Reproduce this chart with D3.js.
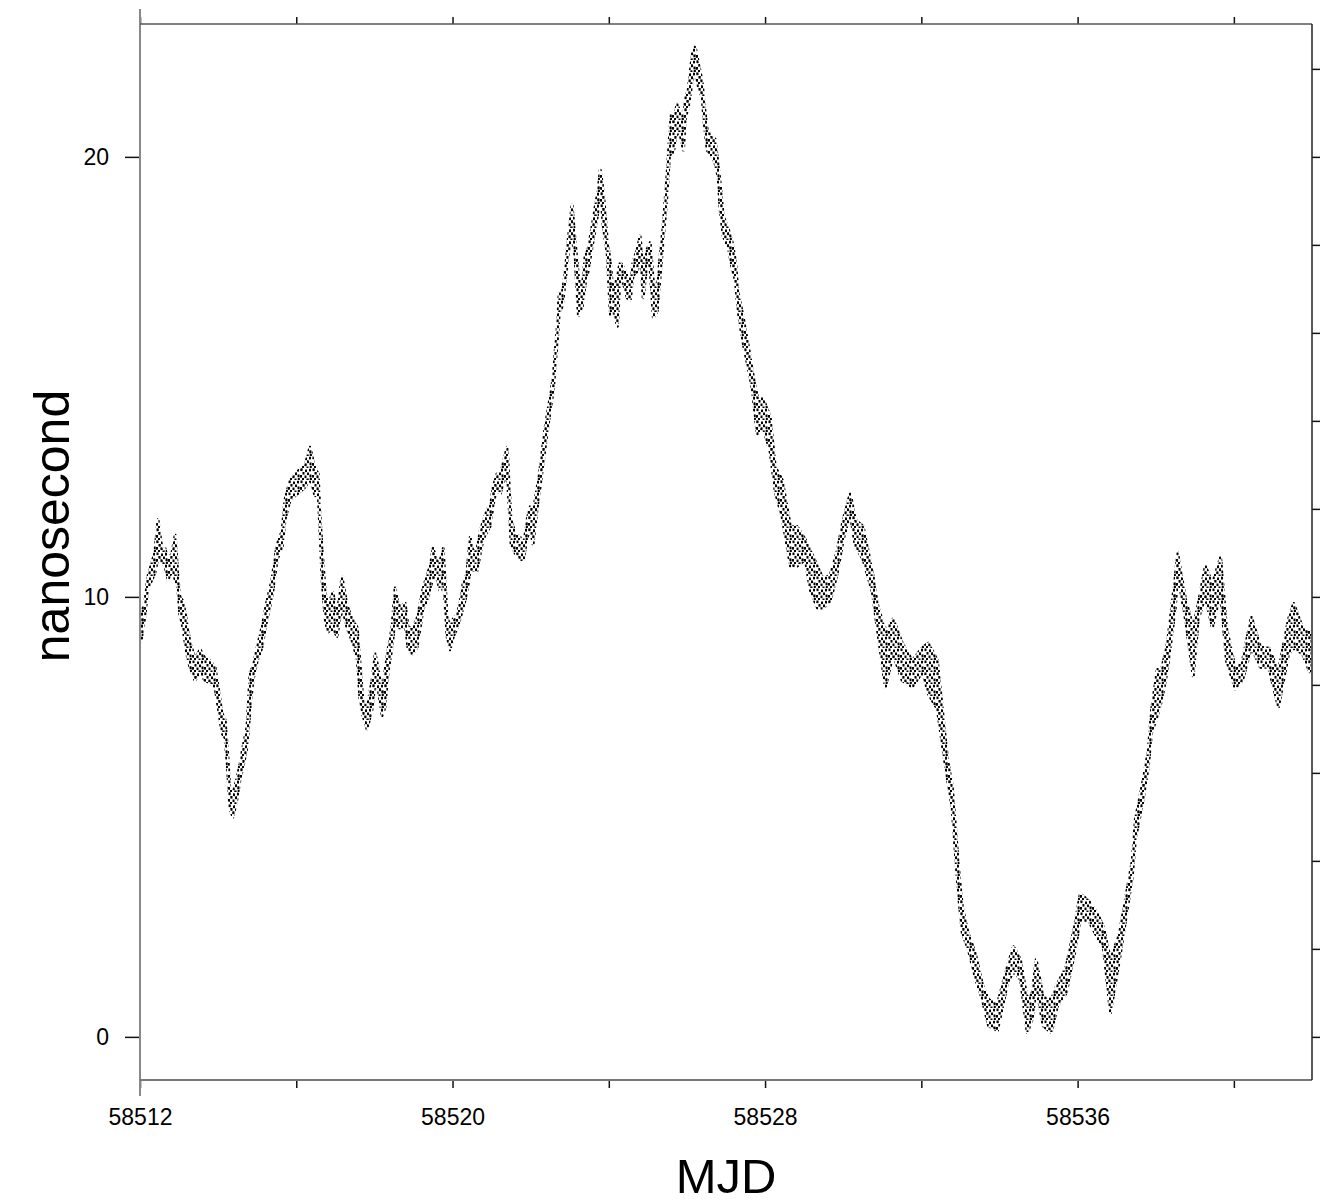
<!DOCTYPE html>
<html>
<head>
<meta charset="utf-8">
<script src="https://cdn.jsdelivr.net/npm/d3@7"></script>
<style>
body{margin:0;background:#fff}
text{font-family:"Liberation Sans",Arial,sans-serif;fill:#000}
</style>
</head>
<body>
<svg></svg>
<script>
// clock offset cloud: sample epoch, low and high edge of the scatter
var mjd=[58512.03,58512.13,58512.20,58512.31,58512.38,58512.46,58512.56,58512.64,58512.72,58512.82,
58512.90,58512.97,58513.02,58513.10,58513.20,58513.28,58513.41,58513.54,58513.66,58513.79,
58513.92,58514.00,58514.10,58514.18,58514.25,58514.30,58514.38,58514.48,58514.56,58514.64,
58514.74,58514.82,58514.89,58515.00,58515.12,58515.25,58515.38,58515.51,58515.64,58515.71,
58515.84,58515.97,58516.10,58516.23,58516.35,58516.48,58516.56,58516.61,58516.66,58516.74,
58516.81,58516.94,58517.04,58517.17,58517.30,58517.43,58517.56,58517.63,58517.71,58517.81,
58517.94,58518.02,58518.09,58518.20,58518.27,58518.35,58518.45,58518.53,58518.61,58518.71,
58518.79,58518.86,58518.97,58519.09,58519.17,58519.25,58519.35,58519.43,58519.50,58519.61,
58519.68,58519.76,58519.86,58519.94,58520.02,58520.12,58520.19,58520.27,58520.37,58520.45,
58520.53,58520.63,58520.71,58520.78,58520.89,58520.96,58521.04,58521.14,58521.22,58521.30,
58521.40,58521.45,58521.50,58521.60,58521.73,58521.81,58521.91,58521.99,58522.06,58522.17,
58522.24,58522.37,58522.50,58522.58,58522.63,58522.68,58522.73,58522.81,58522.88,58522.96,
58523.06,58523.14,58523.22,58523.32,58523.40,58523.47,58523.57,58523.65,58523.73,58523.78,
58523.86,58523.96,58524.04,58524.11,58524.22,58524.29,58524.37,58524.47,58524.55,58524.62,
58524.73,58524.80,58524.88,58524.98,58525.06,58525.14,58525.24,58525.32,58525.39,58525.44,
58525.50,58525.55,58525.60,58525.65,58525.75,58525.83,58525.91,58525.96,58526.03,58526.14,
58526.21,58526.29,58526.39,58526.44,58526.52,58526.65,58526.72,58526.80,58526.85,58526.93,
58527.06,58527.16,58527.24,58527.31,58527.42,58527.57,58527.67,58527.80,58527.95,58528.13,
58528.26,58528.44,58528.65,58528.82,58529.03,58529.16,58529.34,58529.49,58529.67,58529.85,
58530.00,58530.18,58530.31,58530.51,58530.75,58530.87,58531.08,58531.28,58531.51,58531.77,
58532.03,58532.18,58532.41,58532.56,58532.67,58532.79,58532.87,58532.95,58533.05,58533.20,
58533.38,58533.56,58533.72,58533.95,58534.20,58534.36,58534.54,58534.71,58534.84,58534.94,
58535.12,58535.33,58535.48,58535.71,58535.92,58536.07,58536.28,58536.51,58536.66,58536.84,
58537.07,58537.28,58537.40,58537.48,58537.66,58537.81,58537.89,58538.04,58538.15,58538.30,
58538.50,58538.56,58538.76,58538.96,58539.09,58539.27,58539.45,58539.66,58539.81,58540.04,
58540.22,58540.45,58540.68,58540.89,58541.14,58541.40,58541.53,58541.76,58541.94];

var lo=[9.0,9.6,10.2,10.4,10.55,10.9,10.8,10.7,10.4,10.6,
10.4,10.2,9.6,9.3,8.7,8.4,8.1,8.3,8.1,8.05,
7.95,7.5,6.9,6.8,6.0,5.2,5.0,5.4,5.85,6.15,
6.6,7.5,8.1,8.55,8.85,9.5,10.0,10.85,11.15,11.75,
12.2,12.3,12.4,12.5,12.7,12.3,12.4,11.45,10.4,9.5,
9.2,9.3,9.1,9.8,9.3,9.0,8.6,7.7,7.3,7.0,
7.45,8.1,7.95,7.3,7.5,8.3,8.85,9.5,9.3,9.3,
9.4,8.85,8.7,8.85,9.3,9.75,9.9,10.2,10.45,10.4,
10.15,10.55,9.1,8.8,9.1,9.3,9.5,9.75,10.1,10.6,
10.6,10.6,11.0,11.3,11.5,11.6,12.1,12.5,12.35,12.6,
12.8,12.05,11.2,11.0,10.85,10.85,11.35,11.6,11.2,12.05,
12.5,13.4,14.25,14.7,15.3,15.8,16.45,16.6,17.15,17.8,
18.3,17.7,16.4,16.6,17.15,17.4,17.95,18.35,18.8,19.4,
18.4,17.8,16.4,16.6,16.15,17.3,17.15,16.8,16.75,17.3,
17.4,17.9,16.8,17.6,17.45,16.35,16.5,17.35,18.1,18.6,
19.25,20.0,20.1,20.1,20.6,20.5,20.15,20.9,21.1,21.75,
22.0,21.6,21.35,20.8,20.15,20.0,19.85,19.55,18.8,18.2,
17.95,17.45,17.2,16.5,15.85,15.2,14.75,13.7,13.85,13.3,
12.4,11.8,10.7,10.7,10.85,10.15,9.75,9.75,9.9,10.55,
11.3,11.9,11.15,10.85,10.1,9.3,7.95,8.7,8.1,7.95,
8.3,7.8,7.45,6.5,5.85,5.2,4.2,3.25,2.35,2.0,
1.35,0.85,0.25,0.15,1.2,1.5,1.3,0.1,0.4,1.15,
0.25,0.1,0.7,1.0,1.9,2.65,2.65,2.25,2.05,0.55,
1.75,2.95,3.65,4.5,5.3,6.15,6.9,7.3,7.65,8.35,
9.75,10.55,9.5,8.2,9.5,10.0,9.3,10.1,8.55,7.9,
8.1,8.85,8.4,8.4,7.5,8.7,8.85,8.7,8.3];

var hi=[9.6,9.9,10.45,10.8,11.0,11.75,11.1,11.1,10.8,11.0,
11.4,10.45,10.0,9.9,9.4,8.95,8.6,8.8,8.6,8.55,
8.4,7.95,7.35,7.2,6.35,5.6,5.55,5.85,6.2,6.6,
7.05,8.3,8.4,8.85,9.3,9.9,10.4,11.2,11.5,12.2,
12.65,12.8,12.9,13.0,13.4,12.9,12.8,11.8,11.1,10.1,
9.8,10.1,9.55,10.45,9.8,9.5,9.3,8.5,7.6,7.45,
8.1,8.7,8.4,7.8,8.3,8.8,9.3,10.2,9.8,9.8,
9.85,9.3,9.3,9.5,9.85,10.2,10.5,10.7,11.1,10.8,
10.8,11.1,9.55,9.3,9.5,9.6,9.85,10.3,10.55,11.35,
11.0,11.1,11.5,11.7,12.0,12.0,12.5,12.8,12.8,13.05,
13.4,12.5,11.75,11.45,11.35,11.1,11.75,12.05,11.9,12.5,
12.9,13.85,14.55,15.0,15.6,16.1,16.9,16.9,17.35,18.1,
18.9,18.05,17.3,17.0,17.8,17.9,18.4,18.85,19.25,19.7,
19.2,18.1,17.6,16.9,17.3,17.6,17.5,17.3,17.15,17.6,
17.9,18.2,17.45,17.9,18.05,17.15,17.0,17.8,18.4,19.0,
19.7,20.4,21.0,20.8,21.2,21.0,20.8,21.35,21.5,22.35,
22.5,22.15,21.7,21.2,20.6,20.45,20.4,19.8,19.4,18.65,
18.35,18.05,17.65,16.9,16.45,15.7,15.15,14.55,14.5,14.1,
12.95,12.65,11.6,11.6,11.3,11.05,10.7,10.4,10.5,11.05,
11.75,12.35,11.75,11.6,10.55,9.85,9.2,9.5,8.95,8.55,
8.85,8.95,8.55,7.25,6.3,5.7,4.8,3.85,2.95,2.35,
1.9,1.2,0.85,0.75,1.6,2.05,1.75,0.85,1.0,1.75,
0.9,0.85,1.2,1.6,2.5,3.25,3.1,2.8,2.5,1.75,
2.35,3.4,4.0,4.95,5.75,6.5,7.4,8.35,8.35,8.95,
10.45,11.0,9.95,9.3,9.85,10.7,10.3,10.9,9.3,8.35,
8.55,9.55,8.85,8.85,8.3,9.5,9.85,9.3,9.2];

var xTickValues=[58512,58516,58520,58524,58528,58532,58536,58540];
var xLabelValues=[58512,58520,58528,58536];
var yLabelValues=[0,10,20];
var yMinorValues=[0,2,4,6,8,10,12,14,16,18,20,22];

var width=1321, height=1203;
var plotLeft=140, plotRight=1312, plotTop=24, plotBottom=1080;

var svg=d3.select("svg").attr("width",width).attr("height",height);

var x=d3.scaleLinear().domain([58512,58542]).range([plotLeft,plotRight]);
var y=d3.scaleLinear().domain([-0.98,23.02]).range([plotBottom,plotTop]);

// irregular dash texture, so the band reads as a scatter of small marks
var tileDots=[[0.5,0.5],[5,1.5],[9,0.8],[2.5,4],[7,4.5],[0,7],[4.5,7.5],[9.5,6.5],[2,10],[6.5,10.5],[9.8,9.8]];
var pat=svg.append("defs").append("pattern")
	.attr("id","dashes")
	.attr("patternUnits","userSpaceOnUse")
	.attr("width",12).attr("height",12);
pat.selectAll("rect").data(tileDots).enter().append("rect")
	.attr("x",function(d) {return d[0];})
	.attr("y",function(d) {return d[1];})
	.attr("width",2).attr("height",2.6)
	.attr("fill","#000");

var band=d3.area()
	.x(function(i) {return x(mjd[i]);})
	.y0(function(i) {return y(lo[i]);})
	.y1(function(i) {return y(hi[i]);});

svg.append("path")
	.datum(d3.range(mjd.length))
	.attr("d",band)
	.attr("fill","url(#dashes)")
	.attr("stroke","url(#dashes)")
	.attr("stroke-width",3)
	.attr("stroke-linejoin","round");

// axes
var gB=svg.append("g").attr("transform","translate(0,"+plotBottom+")")
	.call(d3.axisBottom(x).tickValues(xTickValues).tickSize(8).tickPadding(21)
		.tickFormat(function(d) {return xLabelValues.indexOf(d)>=0 ? d : "";}));
var gT=svg.append("g").attr("transform","translate(0,"+plotTop+")")
	.call(d3.axisTop(x).tickValues(xTickValues).tickSize(7).tickFormat(""));
var gL=svg.append("g").attr("transform","translate("+plotLeft+",0)")
	.call(d3.axisLeft(y).tickValues(yLabelValues).tickSize(15).tickPadding(16));
var gR=svg.append("g").attr("transform","translate("+plotRight+",0)")
	.call(d3.axisRight(y).tickValues(yMinorValues).tickSize(8).tickFormat(""));

[gB,gT,gL,gR].forEach(function(g) {
	g.select(".domain").remove();
	g.selectAll(".tick line").attr("stroke","#111").attr("stroke-width",1.5);
	g.selectAll("text").style("font-size","23px").attr("font-family",null);
});

// frame
svg.append("line").attr("x1",plotLeft).attr("x2",plotLeft).attr("y1",plotTop-15).attr("y2",plotBottom+16)
	.attr("stroke","#888").attr("stroke-width",2);
svg.append("line").attr("x1",plotLeft).attr("x2",plotRight).attr("y1",plotBottom).attr("y2",plotBottom)
	.attr("stroke","#777").attr("stroke-width",2);
svg.append("line").attr("x1",plotLeft).attr("x2",plotRight).attr("y1",plotTop).attr("y2",plotTop)
	.attr("stroke","#555").attr("stroke-width",1.5);
svg.append("line").attr("x1",plotRight).attr("x2",plotRight).attr("y1",plotTop).attr("y2",plotBottom)
	.attr("stroke","#222").attr("stroke-width",1.5);

svg.append("text")
	.attr("x",(plotLeft+plotRight)/2).attr("y",1193)
	.attr("text-anchor","middle")
	.style("font-size","49px")
	.text("MJD");

svg.append("text")
	.attr("transform","translate(69,526) rotate(-90)")
	.attr("text-anchor","middle")
	.style("font-size","50px")
	.text("nanosecond");
</script>
</body>
</html>
